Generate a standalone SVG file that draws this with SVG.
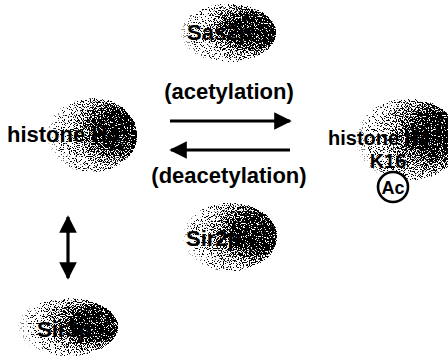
<svg xmlns="http://www.w3.org/2000/svg" width="448" height="356" viewBox="0 0 448 356">
  <defs>
    <!-- density of the stippled protein blobs: dense on the right, fading out to the left -->
    <radialGradient id="blobShade" cx="0.76" cy="0.45" r="0.8" fx="0.82" fy="0.42">
      <stop offset="0" stop-color="#000" stop-opacity="1"/>
      <stop offset="0.3" stop-color="#000" stop-opacity="0.95"/>
      <stop offset="0.5" stop-color="#000" stop-opacity="0.55"/>
      <stop offset="0.7" stop-color="#000" stop-opacity="0.22"/>
      <stop offset="0.88" stop-color="#000" stop-opacity="0.06"/>
      <stop offset="1" stop-color="#000" stop-opacity="0"/>
    </radialGradient>
    <!-- turns the smooth shading into a dithered, grainy stipple -->
    <filter id="stipple" x="-5%" y="-5%" width="110%" height="110%" color-interpolation-filters="sRGB">
      <feTurbulence type="fractalNoise" baseFrequency="0.85" numOctaves="2" seed="7" result="noise"/>
      <feColorMatrix in="noise" type="matrix" values="0 0 0 0 0  0 0 0 0 0  0 0 0 0 0  3.5 0 0 0 -1.25" result="noiseA"/>
      <feComposite in="SourceAlpha" in2="noiseA" operator="arithmetic" k1="0" k2="10" k3="-10" k4="0" result="dots"/>
      <feColorMatrix in="dots" type="matrix" values="0 0 0 0 0  0 0 0 0 0  0 0 0 0 0  0 0 0 1 0"/>
    </filter>
    <marker id="head" viewBox="0 0 10 10" refX="9" refY="5" markerWidth="8" markerHeight="5.5" markerUnits="strokeWidth" orient="auto-start-reverse">
      <path d="M0,0 L10,5 L0,10 z" fill="#000"/>
    </marker>
  </defs>
  <style>
    .blob { fill: url(#blobShade); filter: url(#stipple); }
    .lbl { font-family: "Liberation Sans", Arial, Helvetica, sans-serif; font-weight: bold; font-size: 22px; fill: #000; }
    .sm { font-size: 20px; }
    .mid { text-anchor: middle; }
    .conn { stroke: #000; stroke-width: 3.2; fill: none; }
  </style>
  <rect width="448" height="356" fill="#fff"/>

  <g id="sas2p">
    <ellipse class="blob" cx="228" cy="33" rx="48" ry="29"/>
    <text class="lbl" x="187" y="40">Sas2p</text>
  </g>

  <g id="histone-h4">
    <ellipse class="blob" cx="92" cy="135" rx="45" ry="37"/>
    <text class="lbl" x="7" y="142">histone H4</text>
  </g>

  <g id="histone-h4-k16">
    <ellipse class="blob" cx="408" cy="140" rx="52" ry="41"/>
    <text class="lbl sm" x="328" y="145">histone H4</text>
    <text class="lbl sm mid" x="388" y="168">K16</text>
    <circle cx="393" cy="187" r="15" fill="#fff" stroke="#000" stroke-width="2.6"/>
    <text class="lbl mid" x="393" y="194" style="font-size:18px">Ac</text>
  </g>

  <g id="sir2p">
    <ellipse class="blob" cx="230" cy="237" rx="47" ry="34"/>
    <text class="lbl" x="186" y="246">Sir2p</text>
  </g>

  <g id="sir3p">
    <ellipse class="blob" cx="68" cy="327" rx="50" ry="29"/>
    <text class="lbl" x="37" y="337">Sir3p</text>
  </g>

  <g id="connectors">
    <line class="conn" x1="170" y1="121" x2="290" y2="121" marker-end="url(#head)"/>
    <line class="conn" x1="290" y1="150" x2="171" y2="150" marker-end="url(#head)"/>
    <line class="conn" x1="68" y1="217" x2="68" y2="278" marker-start="url(#head)" marker-end="url(#head)"/>
    <text class="lbl mid" x="229" y="99">(acetylation)</text>
    <text class="lbl mid" x="229" y="183">(deacetylation)</text>
  </g>
</svg>
